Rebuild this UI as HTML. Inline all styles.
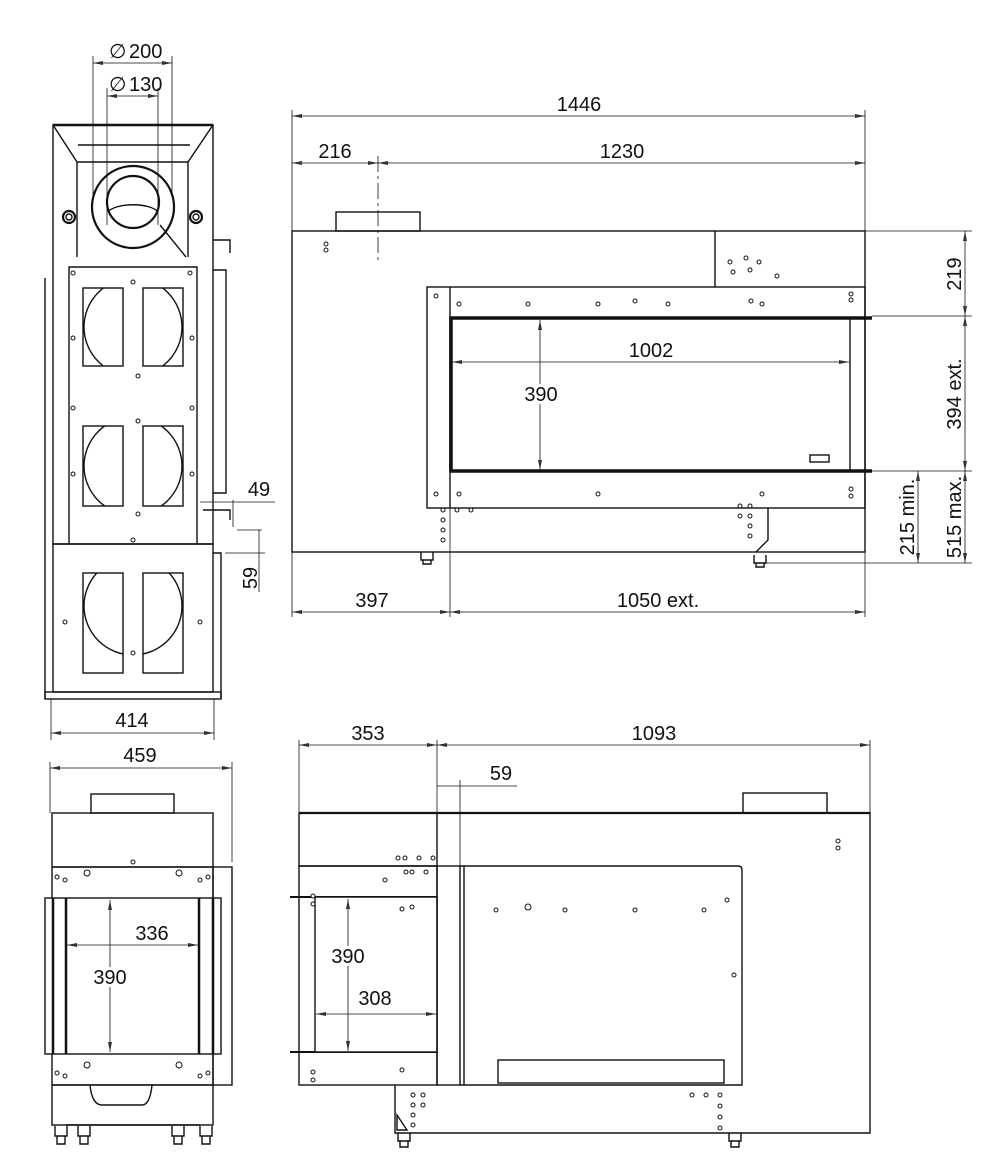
<!DOCTYPE html>
<html><head><meta charset="utf-8"><style>
html,body{margin:0;padding:0;background:#fff}
svg{display:block}
text{font-family:"Liberation Sans",Arial,sans-serif;font-size:20px;fill:#111}
</style></head><body>
<svg width="1000" height="1160" viewBox="0 0 1000 1160" xmlns="http://www.w3.org/2000/svg">
<defs>
<marker id="a" viewBox="0 0 10 6" refX="10" refY="3" markerWidth="10" markerHeight="6" orient="auto-start-reverse" markerUnits="userSpaceOnUse"><path d="M0,1 L10,3 L0,5z" fill="#333"/></marker>
<clipPath id="w1"><rect x="83" y="288" width="40" height="78"/><rect x="143" y="288" width="40" height="78"/></clipPath>
<clipPath id="w2"><rect x="83" y="426" width="40" height="80"/><rect x="143" y="426" width="40" height="80"/></clipPath>
<clipPath id="w3"><rect x="83" y="573" width="40" height="100"/><rect x="143" y="573" width="40" height="100"/></clipPath>
</defs>
<g fill="none" stroke="#111" stroke-width="1.4">
<!-- ============ TOP LEFT VIEW ============ -->
<line x1="45" y1="278" x2="45" y2="699"/>
<rect x="45" y="692" width="176" height="7"/>
<path d="M53,125 H213 V544 H53 Z"/>
<line x1="53" y1="125" x2="213" y2="125" stroke-width="2.5"/>
<path d="M53,125 L77,162 H188 L213,125" />
<line x1="78" y1="145" x2="190" y2="145"/>
<line x1="77" y1="162" x2="77" y2="257"/>
<line x1="188" y1="162" x2="188" y2="257"/>
<path d="M69,544 V267 H197 V544"/>
<rect x="53" y="544" width="160" height="148"/>
<path d="M213,270 H226 V493 H213"/>
<path d="M213,240 H230 V253"/>
<path d="M213,553 H221 V699"/>
<path d="M203,510 H230 V520" />
<circle cx="133" cy="207" r="41" stroke-width="2.2"/>
<circle cx="133" cy="202" r="26" stroke-width="2.2"/>
<path d="M108,212 A26,10 0 0 1 158,212"/>
<line x1="160" y1="225" x2="186" y2="257"/>
<circle cx="69" cy="217" r="6" stroke-width="2.2"/><circle cx="69" cy="217" r="3"/>
<circle cx="196" cy="217" r="6" stroke-width="2.2"/><circle cx="196" cy="217" r="3"/>
<rect x="83" y="288" width="40" height="78"/><rect x="143" y="288" width="40" height="78"/>
<rect x="83" y="426" width="40" height="80"/><rect x="143" y="426" width="40" height="80"/>
<rect x="83" y="573" width="40" height="100"/><rect x="143" y="573" width="40" height="100"/>
<circle cx="133" cy="327" r="49" clip-path="url(#w1)"/>
<circle cx="133" cy="466" r="49" clip-path="url(#w2)"/>
<circle cx="133" cy="606" r="49" clip-path="url(#w3)"/>
<!-- dims -->
<line x1="93" y1="56" x2="93" y2="195" stroke-width="0.8"/>
<line x1="172" y1="56" x2="172" y2="195" stroke-width="0.8"/>
<line x1="107" y1="88" x2="107" y2="225" stroke-width="0.8"/>
<line x1="158" y1="88" x2="158" y2="225" stroke-width="0.8"/>
<line x1="93" y1="63" x2="172" y2="63" stroke-width="0.8" marker-start="url(#a)" marker-end="url(#a)"/>
<line x1="107" y1="96" x2="158" y2="96" stroke-width="0.8" marker-start="url(#a)" marker-end="url(#a)"/>
<line x1="51" y1="699" x2="51" y2="740" stroke-width="0.8"/>
<line x1="214" y1="699" x2="214" y2="740" stroke-width="0.8"/>
<line x1="51" y1="733" x2="214" y2="733" stroke-width="0.8" marker-start="url(#a)" marker-end="url(#a)"/>
<line x1="200" y1="502" x2="275" y2="502" stroke-width="0.8"/>
<line x1="233" y1="500" x2="233" y2="527" stroke-width="0.8"/>
<line x1="237" y1="530" x2="262" y2="530" stroke-width="0.8"/>
<line x1="225" y1="553" x2="265" y2="553" stroke-width="0.8"/>
<line x1="259" y1="530" x2="259" y2="592" stroke-width="0.8"/>
<!-- ============ TOP RIGHT VIEW ============ -->
<rect x="292" y="231" width="573" height="321"/>
<rect x="336" y="212" width="84" height="19"/>
<line x1="715" y1="231" x2="715" y2="287"/>
<rect x="427" y="287" width="438" height="221"/>
<line x1="450" y1="287" x2="450" y2="508"/>
<rect x="450" y="318" width="400" height="153" fill="#fff"/>
<line x1="450" y1="318" x2="872" y2="318" stroke-width="3.5"/>
<line x1="450" y1="471" x2="872" y2="471" stroke-width="3.5"/>
<line x1="451" y1="318" x2="451" y2="471" stroke-width="3.5"/>
<rect x="810" y="455" width="19" height="7"/>
<path d="M768,508 V540 L756,552"/>
<path d="M421,552 V560 H433 V552 M423,560 v4 h8 v-4"/>
<path d="M754,555 V563 H766 V555 M756,563 v4 h8 v-4"/>
<!-- dims -->
<line x1="292" y1="110" x2="292" y2="231" stroke-width="0.8"/>
<line x1="865" y1="110" x2="865" y2="231" stroke-width="0.8"/>
<line x1="292" y1="116" x2="865" y2="116" stroke-width="0.8" marker-start="url(#a)" marker-end="url(#a)"/>
<line x1="292" y1="163" x2="378" y2="163" stroke-width="0.8" marker-start="url(#a)" marker-end="url(#a)"/>
<line x1="378" y1="163" x2="865" y2="163" stroke-width="0.8" marker-start="url(#a)" marker-end="url(#a)"/>
<line x1="378" y1="156" x2="378" y2="262" stroke-width="0.8" stroke-dasharray="16,4,3,4"/>
<line x1="540" y1="320" x2="540" y2="470" stroke-width="0.8" marker-start="url(#a)" marker-end="url(#a)"/>
<line x1="452" y1="362" x2="849" y2="362" stroke-width="0.8" marker-start="url(#a)" marker-end="url(#a)"/>
<line x1="830" y1="231" x2="972" y2="231" stroke-width="0.8"/>
<line x1="872" y1="316" x2="972" y2="316" stroke-width="0.8"/>
<line x1="872" y1="471" x2="972" y2="471" stroke-width="0.8"/>
<line x1="766" y1="563" x2="972" y2="563" stroke-width="0.8"/>
<line x1="965" y1="231" x2="965" y2="316" stroke-width="0.8" marker-start="url(#a)" marker-end="url(#a)"/>
<line x1="965" y1="316" x2="965" y2="471" stroke-width="0.8" marker-start="url(#a)" marker-end="url(#a)"/>
<line x1="965" y1="471" x2="965" y2="563" stroke-width="0.8" marker-start="url(#a)" marker-end="url(#a)"/>
<line x1="918" y1="471" x2="918" y2="563" stroke-width="0.8" marker-start="url(#a)" marker-end="url(#a)"/>
<line x1="865" y1="552" x2="865" y2="617" stroke-width="0.8"/>
<line x1="292" y1="552" x2="292" y2="617" stroke-width="0.8"/>
<line x1="450" y1="508" x2="450" y2="617" stroke-width="0.8"/>
<line x1="292" y1="612" x2="450" y2="612" stroke-width="0.8" marker-start="url(#a)" marker-end="url(#a)"/>
<line x1="450" y1="612" x2="865" y2="612" stroke-width="0.8" marker-start="url(#a)" marker-end="url(#a)"/>
<!-- ============ BOTTOM LEFT VIEW ============ -->
<rect x="91" y="794" width="83" height="19"/>
<rect x="52" y="813" width="161" height="54"/>
<rect x="52" y="867" width="161" height="218"/>
<rect x="213" y="867" width="19" height="218"/>
<rect x="45" y="898" width="176" height="156" fill="#fff"/>
<line x1="53" y1="898" x2="53" y2="1054" stroke-width="2.5"/>
<line x1="66" y1="898" x2="66" y2="1054" stroke-width="2.5"/>
<line x1="199" y1="898" x2="199" y2="1054" stroke-width="2.5"/>
<line x1="213" y1="898" x2="213" y2="1054" stroke-width="2.5"/>
<rect x="52" y="1085" width="161" height="40"/>
<path d="M90,1085 q2,20 12,20 h40 q8,0 10,-20"/>
<line x1="66" y1="1125" x2="200" y2="1125"/>
<path d="M55,1126 v10 h12 v-10 M57,1136 v8 h8 v-8"/>
<path d="M78,1126 v10 h12 v-10 M80,1136 v8 h8 v-8"/>
<path d="M172,1126 v10 h12 v-10 M174,1136 v8 h8 v-8"/>
<path d="M200,1126 v10 h12 v-10 M202,1136 v8 h8 v-8"/>
<line x1="50" y1="762" x2="50" y2="813" stroke-width="0.8"/>
<line x1="232" y1="762" x2="232" y2="862" stroke-width="0.8"/>
<line x1="50" y1="768" x2="232" y2="768" stroke-width="0.8" marker-start="url(#a)" marker-end="url(#a)"/>
<line x1="67" y1="945" x2="198" y2="945" stroke-width="0.8" marker-start="url(#a)" marker-end="url(#a)"/>
<line x1="110" y1="900" x2="110" y2="1052" stroke-width="0.8" marker-start="url(#a)" marker-end="url(#a)"/>
<!-- ============ BOTTOM RIGHT VIEW ============ -->
<rect x="743" y="793" width="84" height="20"/>
<line x1="299" y1="813" x2="870" y2="813" stroke-width="2.2"/>
<path d="M299,813 V866 H437 V813"/>
<path d="M437,813 H870 V1133 H395 V1085"/>
<rect x="299" y="866" width="138" height="219"/>
<line x1="290" y1="897" x2="437" y2="897" stroke-width="2"/>
<line x1="290" y1="1052" x2="437" y2="1052" stroke-width="2"/>
<rect x="315" y="897" width="122" height="155" fill="#fff"/>
<rect x="437" y="866" width="23" height="219"/>
<line x1="464" y1="866" x2="464" y2="1085"/>
<path d="M460,866 H738 q4,0 4,4 V1085 H460"/>
<rect x="498" y="1060" width="226" height="23"/>
<path d="M397,1115 l10,15 h-10z"/>
<path d="M398,1133 v8 h12 v-8 M400,1141 v6 h8 v-6"/>
<path d="M729,1133 v8 h12 v-8 M731,1141 v6 h8 v-6"/>
<line x1="299" y1="740" x2="299" y2="813" stroke-width="0.8"/>
<line x1="437" y1="740" x2="437" y2="813" stroke-width="0.8"/>
<line x1="870" y1="740" x2="870" y2="813" stroke-width="0.8"/>
<line x1="299" y1="745" x2="437" y2="745" stroke-width="0.8" marker-start="url(#a)" marker-end="url(#a)"/>
<line x1="437" y1="745" x2="870" y2="745" stroke-width="0.8" marker-start="url(#a)" marker-end="url(#a)"/>
<line x1="437" y1="786" x2="517" y2="786" stroke-width="0.8"/>
<line x1="460" y1="780" x2="460" y2="866" stroke-width="0.8"/>
<line x1="348" y1="899" x2="348" y2="1051" stroke-width="0.8" marker-start="url(#a)" marker-end="url(#a)"/>
<line x1="316" y1="1014" x2="436" y2="1014" stroke-width="0.8" marker-start="url(#a)" marker-end="url(#a)"/>
</g>
<!-- small holes -->
<g fill="#fff" stroke="#111" stroke-width="1">
<circle cx="73" cy="273" r="2"/><circle cx="190" cy="273" r="2"/><circle cx="133" cy="282" r="2"/>
<circle cx="73" cy="338" r="2"/><circle cx="192" cy="338" r="2"/><circle cx="138" cy="376" r="2"/>
<circle cx="73" cy="408" r="2"/><circle cx="192" cy="408" r="2"/><circle cx="138" cy="421" r="2"/>
<circle cx="73" cy="474" r="2"/><circle cx="192" cy="474" r="2"/><circle cx="138" cy="514" r="2"/>
<circle cx="133" cy="540" r="2"/><circle cx="65" cy="622" r="2"/><circle cx="200" cy="622" r="2"/><circle cx="133" cy="653" r="2"/>
<circle cx="326" cy="244" r="2"/><circle cx="326" cy="250" r="2"/>
<circle cx="436" cy="296" r="2"/><circle cx="459" cy="304" r="2"/><circle cx="528" cy="304" r="2"/><circle cx="598" cy="304" r="2"/><circle cx="635" cy="301" r="2"/><circle cx="668" cy="304" r="2"/><circle cx="751" cy="301" r="2"/><circle cx="762" cy="304" r="2"/><circle cx="851" cy="294" r="2"/><circle cx="851" cy="300" r="2"/>
<circle cx="436" cy="494" r="2"/><circle cx="459" cy="494" r="2"/><circle cx="598" cy="494" r="2"/><circle cx="762" cy="494" r="2"/><circle cx="851" cy="489" r="2"/><circle cx="851" cy="496" r="2"/>
<circle cx="730" cy="262" r="2"/><circle cx="746" cy="258" r="2"/><circle cx="759" cy="262" r="2"/><circle cx="733" cy="272" r="2"/><circle cx="750" cy="270" r="2"/><circle cx="777" cy="276" r="2"/>
<circle cx="443" cy="510" r="2"/><circle cx="457" cy="510" r="2"/><circle cx="471" cy="510" r="2"/><circle cx="443" cy="520" r="2"/><circle cx="443" cy="530" r="2"/><circle cx="443" cy="540" r="2"/>
<circle cx="740" cy="506" r="2"/><circle cx="750" cy="506" r="2"/><circle cx="740" cy="516" r="2"/><circle cx="750" cy="516" r="2"/><circle cx="750" cy="526" r="2"/><circle cx="750" cy="536" r="2"/>
<circle cx="133" cy="862" r="2"/><circle cx="87" cy="873" r="3"/><circle cx="179" cy="873" r="3"/><circle cx="57" cy="877" r="2"/><circle cx="65" cy="880" r="2"/><circle cx="200" cy="880" r="2"/><circle cx="208" cy="877" r="2"/>
<circle cx="87" cy="1065" r="3"/><circle cx="179" cy="1065" r="3"/><circle cx="57" cy="1073" r="2"/><circle cx="65" cy="1076" r="2"/><circle cx="200" cy="1076" r="2"/><circle cx="208" cy="1073" r="2"/>
<circle cx="398" cy="858" r="2"/><circle cx="405" cy="858" r="2"/><circle cx="419" cy="858" r="2"/><circle cx="433" cy="858" r="2"/><circle cx="406" cy="872" r="2"/><circle cx="412" cy="872" r="2"/><circle cx="426" cy="872" r="2"/><circle cx="385" cy="880" r="2"/>
<circle cx="313" cy="896" r="2"/><circle cx="313" cy="904" r="2"/><circle cx="402" cy="909" r="2"/><circle cx="412" cy="907" r="2"/>
<circle cx="496" cy="910" r="2"/><circle cx="528" cy="907" r="3"/><circle cx="565" cy="910" r="2"/><circle cx="635" cy="910" r="2"/><circle cx="704" cy="910" r="2"/><circle cx="727" cy="900" r="2"/><circle cx="734" cy="975" r="2"/>
<circle cx="838" cy="841" r="2"/><circle cx="838" cy="848" r="2"/>
<circle cx="313" cy="1072" r="2"/><circle cx="313" cy="1080" r="2"/><circle cx="402" cy="1070" r="2"/>
<circle cx="413" cy="1095" r="2"/><circle cx="423" cy="1095" r="2"/><circle cx="413" cy="1105" r="2"/><circle cx="423" cy="1105" r="2"/><circle cx="413" cy="1115" r="2"/><circle cx="413" cy="1125" r="2"/>
<circle cx="692" cy="1095" r="2"/><circle cx="706" cy="1095" r="2"/><circle cx="720" cy="1095" r="2"/><circle cx="720" cy="1106" r="2"/><circle cx="720" cy="1117" r="2"/><circle cx="720" cy="1128" r="2"/>
</g>
<!-- labels -->
<text x="109" y="58">∅</text><text x="129" y="58">200</text>
<text x="109" y="91">∅</text><text x="129" y="91">130</text>
<text x="132" y="727" text-anchor="middle">414</text>
<text x="259" y="496" text-anchor="middle">49</text>
<text transform="translate(257,578) rotate(-90)" text-anchor="middle">59</text>
<text x="579" y="111" text-anchor="middle">1446</text>
<text x="335" y="158" text-anchor="middle">216</text>
<text x="622" y="158" text-anchor="middle">1230</text>
<text x="651" y="357" text-anchor="middle">1002</text>
<text x="541" y="401" text-anchor="middle" style="paint-order:stroke" stroke="#fff" stroke-width="6">390</text>
<text x="372" y="607" text-anchor="middle">397</text>
<text x="658" y="607" text-anchor="middle">1050 ext.</text>
<text transform="translate(961,274) rotate(-90)" text-anchor="middle">219</text>
<text transform="translate(961,394) rotate(-90)" text-anchor="middle">394 ext.</text>
<text transform="translate(961,517) rotate(-90)" text-anchor="middle">515 max.</text>
<text transform="translate(914,517) rotate(-90)" text-anchor="middle">215 min.</text>
<text x="140" y="762" text-anchor="middle">459</text>
<text x="152" y="940" text-anchor="middle">336</text>
<text x="110" y="984" text-anchor="middle" style="paint-order:stroke" stroke="#fff" stroke-width="6">390</text>
<text x="368" y="740" text-anchor="middle">353</text>
<text x="654" y="740" text-anchor="middle">1093</text>
<text x="501" y="780" text-anchor="middle">59</text>
<text x="348" y="963" text-anchor="middle" style="paint-order:stroke" stroke="#fff" stroke-width="6">390</text>
<text x="375" y="1005" text-anchor="middle">308</text>
</svg>
</body></html>
